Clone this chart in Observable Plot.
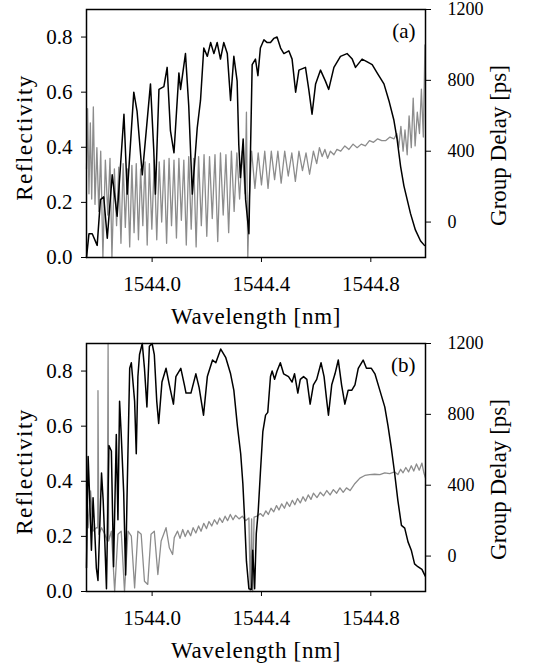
<!DOCTYPE html>
<html><head><meta charset="utf-8">
<script src="https://cdn.jsdelivr.net/npm/d3@7"></script>
<script src="https://cdn.jsdelivr.net/npm/@observablehq/plot@0.6"></script>
<style>body{margin:0;background:#fff} svg{display:block} svg text{font-family:"Liberation Serif","Times New Roman",serif}</style>
</head><body><div id="c"></div>
<script>
// ---- Axes / ticks ----
const xDomain = [1543.76, 1545.0];
const xTicks = [1544.0, 1544.4, 1544.8];
const rTicks = [0.0, 0.2, 0.4, 0.6, 0.8];
const gdTicks = [0, 400, 800, 1200];
const rMax = 0.9;
const gdRange = [-200, 1200];
const panelLabels = ["(a)", "(b)"];

// ---- Panel (a): reflectivity ----
const wlA_R = [1543.760,1543.769,1543.781,1543.799,1543.811,1543.823,1543.836,1543.854,1543.872,1543.897,1543.909,1543.933,1543.945,1543.964,1543.994,1544.006,1544.012,1544.025,1544.043,1544.055,1544.067,1544.080,1544.098,1544.104,1544.122,1544.134,1544.147,1544.165,1544.177,1544.189,1544.202,1544.214,1544.226,1544.238,1544.250,1544.262,1544.275,1544.287,1544.299,1544.311,1544.317,1544.323,1544.333,1544.342,1544.354,1544.366,1544.378,1544.387,1544.396,1544.409,1544.421,1544.433,1544.445,1544.457,1544.470,1544.482,1544.500,1544.512,1544.525,1544.537,1544.561,1544.573,1544.585,1544.598,1544.616,1544.634,1544.646,1544.665,1544.689,1544.713,1544.732,1544.744,1544.768,1544.787,1544.805,1544.823,1544.848,1544.866,1544.884,1544.896,1544.909,1544.921,1544.933,1544.945,1544.963,1544.982,1544.996];
const reflA = [0.00,0.086,0.086,0.044,0.21,0.22,0.07,0.30,0.15,0.52,0.23,0.60,0.53,0.30,0.63,0.39,0.23,0.61,0.62,0.69,0.46,0.38,0.67,0.61,0.74,0.55,0.23,0.47,0.57,0.76,0.73,0.78,0.74,0.78,0.72,0.78,0.74,0.57,0.73,0.64,0.41,0.29,0.43,0.21,0.086,0.70,0.72,0.66,0.76,0.79,0.78,0.78,0.795,0.80,0.76,0.74,0.75,0.72,0.60,0.68,0.69,0.61,0.52,0.63,0.68,0.64,0.61,0.69,0.73,0.74,0.72,0.69,0.72,0.71,0.70,0.67,0.63,0.57,0.50,0.43,0.33,0.26,0.21,0.16,0.10,0.06,0.044];

// ---- Panel (a): group delay (ps) ----
const wlA_G = [1543.760,1543.764,1543.769,1543.774,1543.779,1543.785,1543.791,1543.798,1543.805,1543.812,1543.820,1543.829,1543.838,1543.846,1543.853,1543.862,1543.870,1543.878,1543.886,1543.894,1543.902,1543.910,1543.918,1543.926,1543.934,1543.942,1543.950,1543.958,1543.966,1543.974,1543.982,1543.990,1543.999,1544.008,1544.017,1544.026,1544.035,1544.044,1544.053,1544.062,1544.071,1544.080,1544.089,1544.098,1544.107,1544.116,1544.125,1544.134,1544.143,1544.152,1544.161,1544.170,1544.180,1544.190,1544.200,1544.210,1544.220,1544.230,1544.240,1544.250,1544.260,1544.270,1544.280,1544.290,1544.300,1544.310,1544.320,1544.330,1544.340,1544.345,1544.350,1544.356,1544.364,1544.376,1544.388,1544.400,1544.412,1544.424,1544.436,1544.448,1544.460,1544.472,1544.485,1544.498,1544.511,1544.524,1544.537,1544.550,1544.563,1544.576,1544.590,1544.602,1544.612,1544.622,1544.632,1544.642,1544.652,1544.665,1544.676,1544.690,1544.705,1544.720,1544.735,1544.750,1544.765,1544.780,1544.795,1544.810,1544.825,1544.840,1544.855,1544.870,1544.885,1544.895,1544.902,1544.910,1544.918,1544.925,1544.933,1544.940,1544.948,1544.955,1544.962,1544.970,1544.978,1544.985,1544.992,1544.998,1545.000];
const gdA = [300,640,160,560,130,650,100,420,60,400,-200,350,40,360,-200,300,-20,310,-120,330,-30,300,-140,320,-60,330,-100,300,-20,340,-130,330,-40,350,-100,340,0,350,-120,360,-20,350,-90,360,10,350,-130,370,-40,360,-140,370,-20,380,-80,370,20,380,-110,390,40,380,-60,400,60,390,130,400,160,620,-200,150,400,190,390,210,400,190,400,240,400,220,400,260,390,230,400,290,390,270,400,330,420,370,410,360,400,380,410,400,430,410,440,420,440,430,460,450,470,460,460,480,470,500,420,540,400,520,380,600,420,700,430,620,500,750,480,1000,800,1010];

// ---- Panel (b): reflectivity ----
const wlB_R = [1543.760,1543.766,1543.772,1543.778,1543.784,1543.790,1543.796,1543.802,1543.815,1543.821,1543.827,1543.833,1543.842,1543.851,1543.859,1543.869,1543.875,1543.881,1543.887,1543.896,1543.903,1543.908,1543.918,1543.924,1543.936,1543.942,1543.948,1543.954,1543.964,1543.972,1543.981,1543.990,1544.000,1544.008,1544.017,1544.024,1544.036,1544.051,1544.063,1544.078,1544.087,1544.105,1544.118,1544.124,1544.142,1544.160,1544.172,1544.188,1544.202,1544.221,1544.233,1544.251,1544.269,1544.287,1544.299,1544.312,1544.324,1544.332,1544.339,1544.345,1544.354,1544.364,1544.368,1544.375,1544.381,1544.388,1544.396,1544.405,1544.415,1544.423,1544.433,1544.439,1544.448,1544.457,1544.469,1544.481,1544.499,1544.512,1544.521,1544.533,1544.542,1544.554,1544.566,1544.578,1544.590,1544.602,1544.618,1544.629,1544.639,1544.645,1544.657,1544.669,1544.681,1544.693,1544.705,1544.717,1544.730,1544.742,1544.754,1544.772,1544.784,1544.802,1544.815,1544.833,1544.851,1544.863,1544.875,1544.887,1544.899,1544.912,1544.924,1544.936,1544.948,1544.960,1544.972,1544.987,1544.999];
const reflB = [0.086,0.49,0.33,0.15,0.34,0.22,0.086,0.04,0.43,0.33,0.18,0.01,0.53,0.51,0.09,0.57,0.26,0.69,0.57,0.36,0.06,0.33,0.81,0.83,0.69,0.50,0.78,0.86,0.90,0.81,0.67,0.89,0.90,0.86,0.69,0.61,0.76,0.81,0.75,0.68,0.78,0.81,0.75,0.72,0.72,0.79,0.74,0.64,0.78,0.84,0.83,0.88,0.85,0.79,0.73,0.60,0.50,0.39,0.25,0.11,0.01,0.007,0.15,0.01,0.21,0.29,0.43,0.58,0.64,0.65,0.78,0.80,0.77,0.80,0.83,0.79,0.78,0.76,0.79,0.72,0.77,0.78,0.77,0.68,0.75,0.77,0.83,0.78,0.69,0.64,0.75,0.79,0.84,0.75,0.68,0.73,0.73,0.75,0.81,0.84,0.81,0.81,0.79,0.73,0.67,0.60,0.52,0.43,0.33,0.24,0.23,0.18,0.15,0.10,0.09,0.08,0.056];

// ---- Panel (b): group delay (ps) ----
const wlB_G = [1543.760,1543.766,1543.775,1543.784,1543.796,1543.801,1543.802,1543.805,1543.815,1543.827,1543.836,1543.839,1543.841,1543.851,1543.863,1543.875,1543.887,1543.899,1543.912,1543.924,1543.936,1543.948,1543.960,1543.972,1543.984,1543.996,1544.008,1544.021,1544.033,1544.051,1544.063,1544.075,1544.081,1544.093,1544.102,1544.112,1544.121,1544.131,1544.141,1544.150,1544.160,1544.170,1544.179,1544.189,1544.199,1544.208,1544.218,1544.228,1544.238,1544.247,1544.257,1544.267,1544.276,1544.286,1544.296,1544.305,1544.318,1544.330,1544.342,1544.354,1544.359,1544.364,1544.368,1544.373,1544.384,1544.396,1544.406,1544.416,1544.425,1544.435,1544.445,1544.455,1544.464,1544.474,1544.484,1544.493,1544.503,1544.513,1544.522,1544.532,1544.542,1544.552,1544.561,1544.571,1544.581,1544.590,1544.603,1544.615,1544.627,1544.639,1544.651,1544.663,1544.675,1544.687,1544.699,1544.711,1544.724,1544.742,1544.760,1544.778,1544.796,1544.814,1544.833,1544.851,1544.869,1544.887,1544.899,1544.909,1544.918,1544.928,1544.938,1544.948,1544.957,1544.967,1544.977,1544.987,1544.994,1545.000];
const gdB = [405,160,368,141,160,160,934,123,160,123,85,1200,85,141,-200,123,141,-200,141,113,-180,141,123,-142,-160,123,141,-104,85,160,47,9,104,141,100,150,110,145,115,160,130,170,140,185,155,195,170,205,180,215,190,225,200,235,205,230,210,225,200,215,-200,210,-200,220,225,240,225,255,235,270,250,285,260,295,270,305,280,315,290,325,300,335,310,345,320,355,330,360,340,370,345,375,355,385,360,385,370,410,440,455,460,462,460,470,465,475,460,490,470,500,475,510,480,520,485,525,470,440];

const toR = g => (g - gdRange[0]) / (gdRange[1] - gdRange[0]) * rMax;
const fromR = r => r / rMax * (gdRange[1] - gdRange[0]) + gdRange[0];

function panel(wlR, refl, wlG, gd, label) {
  const rData = wlR.map((w, i) => ({w, r: refl[i]}));
  const gData = wlG.map((w, i) => ({w, g: gd[i]}));
  const svg = Plot.plot({
    width: 540, height: 334,
    marginLeft: 86, marginRight: 115, marginTop: 9, marginBottom: 77,
    style: {fontFamily: "'Liberation Serif', 'Times New Roman', serif", fontSize: "21px", color: "#000", background: "#fff"},
    x: {domain: xDomain},
    y: {domain: [0, rMax]},
    marks: [
      Plot.line(gData, {x: "w", y: d => toR(d.g), stroke: "#8c8c8c", strokeWidth: 1.3}),
      Plot.line(rData, {x: "w", y: "r", stroke: "#000", strokeWidth: 1.5}),
      Plot.frame({stroke: "#000", strokeWidth: 1.5}),
      Plot.axisX({ticks: xTicks, tickFormat: d => d.toFixed(1), tickSize: 5, tickPadding: 14, label: null}),
      Plot.axisY({ticks: rTicks, tickFormat: d => d.toFixed(1), tickSize: 5, tickPadding: 9, label: null}),
      Plot.axisY({anchor: "right", ticks: gdTicks.map(toR), tickFormat: d => String(Math.round(fromR(d))), tickSize: 5, tickPadding: 17, fontSize: 18, label: null}),
      Plot.text(["Wavelength [nm]"], {frameAnchor: "bottom", dy: 66, fontSize: 23}),
      Plot.text(["Reflectivity"], {frameAnchor: "left", rotate: -90, textAnchor: "middle", dx: -62, dy: 4, fontSize: 23}),
      Plot.text(["Group Delay [ps]"], {frameAnchor: "right", rotate: -90, textAnchor: "middle", dx: 73, dy: 12, fontSize: 23}),
      Plot.text([label], {frameAnchor: "top-right", dx: -10, dy: 14, fontSize: 21, textAnchor: "end"})
    ]
  });
  d3.select(svg).selectAll("text").each(function () {
    const t = this.textContent;
    if (t === "Reflectivity") this.setAttribute("letter-spacing", "1.5");
    if (t === "Wavelength [nm]") this.setAttribute("letter-spacing", "0.7");
  });
  return svg;
}

const c = document.getElementById("c");
c.append(panel(wlA_R, reflA, wlA_G, gdA, panelLabels[0]));
c.append(panel(wlB_R, reflB, wlB_G, gdB, panelLabels[1]));
</script>
</body></html>
